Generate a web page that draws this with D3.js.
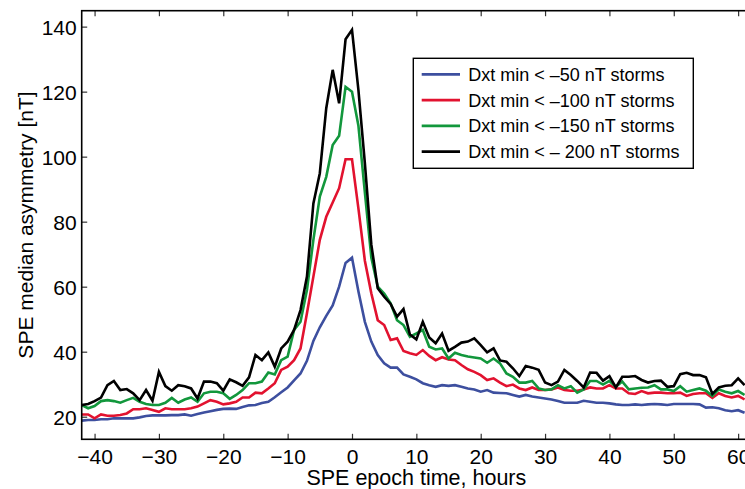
<!DOCTYPE html>
<html><head><meta charset="utf-8">
<script src="https://cdn.jsdelivr.net/npm/d3@7"></script>
<style>body{margin:0;background:#fff;} svg{display:block;font-family:"Liberation Sans",Arial,Helvetica,sans-serif;}</style>
</head><body>
<svg id="c" width="745" height="489"></svg>
<script>
const hours = d3.range(-42, 62);
const seriesNames = ["Dxt min < \u201350 nT storms","Dxt min < \u2013100 nT storms","Dxt min < \u2013150 nT storms","Dxt min < \u2013 200 nT storms"];
const seriesColors = ["#3d4f9f","#e2122f","#12973c","#000000"];
const xTicks = [-40,-30,-20,-10,0,10,20,30,40,50,60];
const yTicks = [20,40,60,80,100,120,140];
const dst50 = [18.8,19.0,19.0,19.2,19.2,19.5,19.5,19.5,19.5,19.8,20.2,20.4,20.4,20.4,20.5,20.5,20.7,20.3,20.8,21.3,21.7,22.1,22.4,22.5,22.4,23.0,23.5,23.6,24.2,24.6,26.0,27.5,29.0,31.2,33.3,37.2,43.3,47.5,51.0,54.2,60.0,67.3,68.9,58.5,49.2,43.1,39.0,36.4,35.1,35.1,33.0,32.3,31.5,30.3,29.7,29.2,29.7,29.5,29.7,29.2,28.7,28.4,27.7,28.2,27.4,27.3,27.2,26.7,26.2,26.7,26.2,25.9,25.6,25.3,24.8,24.3,24.3,24.3,24.9,24.6,24.3,24.3,24.1,23.8,23.6,23.6,23.8,23.6,23.8,23.9,23.8,23.6,23.9,23.9,23.9,23.9,23.8,22.8,22.9,22.6,22.0,21.7,22.0,21.2];
const dst100 = [20.7,20.7,19.5,20.7,20.3,20.3,20.5,21.0,22.3,22.3,22.6,22.1,21.5,22.6,22.3,22.3,22.3,22.6,23.1,24.1,25.1,24.6,23.8,24.1,24.6,25.9,25.9,27.4,27.2,28.7,30.3,34.4,35.4,37.4,41.0,51.8,63.1,74.4,81.5,85.9,90.3,99.2,99.2,84.0,68.0,58.0,49.7,48.2,43.6,44.1,40.2,39.5,39.0,40.5,38.7,37.4,38.3,37.6,37.4,35.9,34.6,33.8,32.8,31.3,31.8,30.5,29.4,29.9,28.7,28.2,29.0,28.2,28.2,28.4,29.0,28.2,28.0,28.0,28.4,29.0,28.7,28.7,29.7,28.7,28.7,27.2,27.0,27.9,27.2,27.4,27.4,27.2,27.2,27.4,26.4,27.0,27.2,27.2,25.8,27.2,26.4,25.9,26.4,25.3];
const dst150 = [23.6,22.6,23.3,24.8,25.1,24.8,24.3,25.1,25.8,24.6,23.9,23.6,23.6,24.3,25.8,24.3,25.3,25.9,24.6,27.2,27.7,27.7,27.2,25.5,26.7,28.2,30.3,30.3,30.8,33.6,33.0,37.4,38.5,46.7,49.2,59.0,74.4,87.7,93.8,103.6,106.4,121.5,120.0,109.5,89.0,69.0,60.0,57.9,54.9,49.7,48.2,44.6,45.6,46.7,41.5,40.7,41.0,37.9,39.7,39.0,38.5,38.2,37.9,36.6,37.9,36.4,33.3,32.3,30.5,30.5,31.0,28.7,28.2,28.4,29.7,28.7,29.4,27.4,28.4,31.0,31.0,29.9,31.0,29.2,30.8,28.4,28.7,28.9,29.0,29.7,28.4,28.4,27.9,29.4,27.7,28.2,28.7,28.0,26.4,28.4,27.7,27.2,27.9,26.7];
const dst200 = [23.6,23.9,24.8,25.9,29.7,31.0,28.2,28.5,27.2,25.1,28.2,24.9,33.8,29.4,28.0,29.7,29.4,28.7,25.6,30.8,30.8,30.3,28.0,31.5,30.6,29.5,32.1,39.0,37.4,39.8,35.4,41.0,43.1,46.7,52.8,63.1,85.6,94.9,114.9,126.7,116.4,136.1,139.0,120.5,98.0,73.0,59.5,56.9,54.7,50.8,53.1,45.3,43.8,49.2,44.4,42.6,45.6,40.3,41.5,42.8,43.1,44.1,42.0,39.8,41.0,37.3,36.9,34.9,32.5,35.6,35.1,34.4,30.5,29.7,30.8,34.4,32.8,31.0,29.0,33.6,33.5,31.1,32.5,29.0,32.3,32.3,32.5,31.3,30.5,31.0,31.1,29.2,29.4,33.1,33.5,32.8,32.8,32.1,27.0,29.0,29.5,29.7,31.8,29.7];

const allSeries = [dst50, dst100, dst150, dst200];
const svg = d3.select("#c");
const L = 81.7, T = 10.7, R = 751, B = 439.3;
const x = d3.scaleLinear().domain([-42, 62]).range([L, R]);
const y = d3.scaleLinear().domain([13.05, 144.9]).range([B, T]);

svg.append("defs").append("clipPath").attr("id","clip")
  .append("rect").attr("x",L).attr("y",T).attr("width",R-L).attr("height",B-T);

const line = d3.line().x((d,i)=>x(hours[i])).y(d=>y(d));
const g = svg.append("g").attr("clip-path","url(#clip)");
allSeries.forEach((s,k)=>{
  g.append("path").datum(s).attr("d",line).attr("fill","none")
   .attr("stroke",seriesColors[k]).attr("stroke-width",2.6).attr("stroke-linejoin","miter");
});

const fmt = d => d < 0 ? "\u2212" + Math.abs(d) : String(d);
const tl = 5.5;
const xb = svg.append("g").attr("transform",`translate(0,${B})`)
  .call(d3.axisBottom(x).tickValues(xTicks).tickFormat(fmt).tickSizeInner(-tl).tickSizeOuter(0).tickPadding(10));
const xt = svg.append("g").attr("transform",`translate(0,${T})`)
  .call(d3.axisTop(x).tickValues(xTicks).tickFormat("").tickSizeInner(-tl).tickSizeOuter(0));
const yl = svg.append("g").attr("transform",`translate(${L},0)`)
  .call(d3.axisLeft(y).tickValues(yTicks).tickFormat(fmt).tickSizeInner(-tl).tickSizeOuter(0).tickPadding(5));
const yr = svg.append("g").attr("transform",`translate(${R},0)`)
  .call(d3.axisRight(y).tickValues(yTicks).tickFormat("").tickSizeInner(-tl).tickSizeOuter(0));
[xb,xt,yl,yr].forEach(a=>{
  a.select(".domain").remove();
  a.selectAll(".tick line").attr("stroke","#333").attr("stroke-width",1.2);
  a.selectAll("text").attr("font-size",21).attr("fill","#000").attr("font-family","'Liberation Sans',Arial,sans-serif");
});
yl.selectAll("text").attr("dy","0.36em");
svg.append("rect").attr("x",L).attr("y",T).attr("width",R-L).attr("height",B-T)
  .attr("fill","none").attr("stroke","#000").attr("stroke-width",1.6);

svg.append("text").attr("x",(L+R)/2).attr("y",485).attr("text-anchor","middle")
  .attr("font-size",21.5).text("SPE epoch time, hours");
svg.append("text").attr("transform",`translate(33,${(T+B)/2}) rotate(-90)`).attr("text-anchor","middle")
  .attr("font-size",21).text("SPE median asymmetry [nT]");

const lg = svg.append("g");
lg.append("rect").attr("x",413.3).attr("y",58.3).attr("width",280).attr("height",110)
  .attr("fill","#fff").attr("stroke","#000").attr("stroke-width",1.4);
seriesNames.forEach((n,k)=>{
  const yy = 74.3 + k*25.8;
  lg.append("line").attr("x1",421.7).attr("x2",460).attr("y1",yy).attr("y2",yy)
    .attr("stroke",seriesColors[k]).attr("stroke-width",2.8);
  lg.append("text").attr("x",468.3).attr("y",yy).attr("dy","0.36em").attr("font-size",18).text(n);
});
</script>
</body></html>
